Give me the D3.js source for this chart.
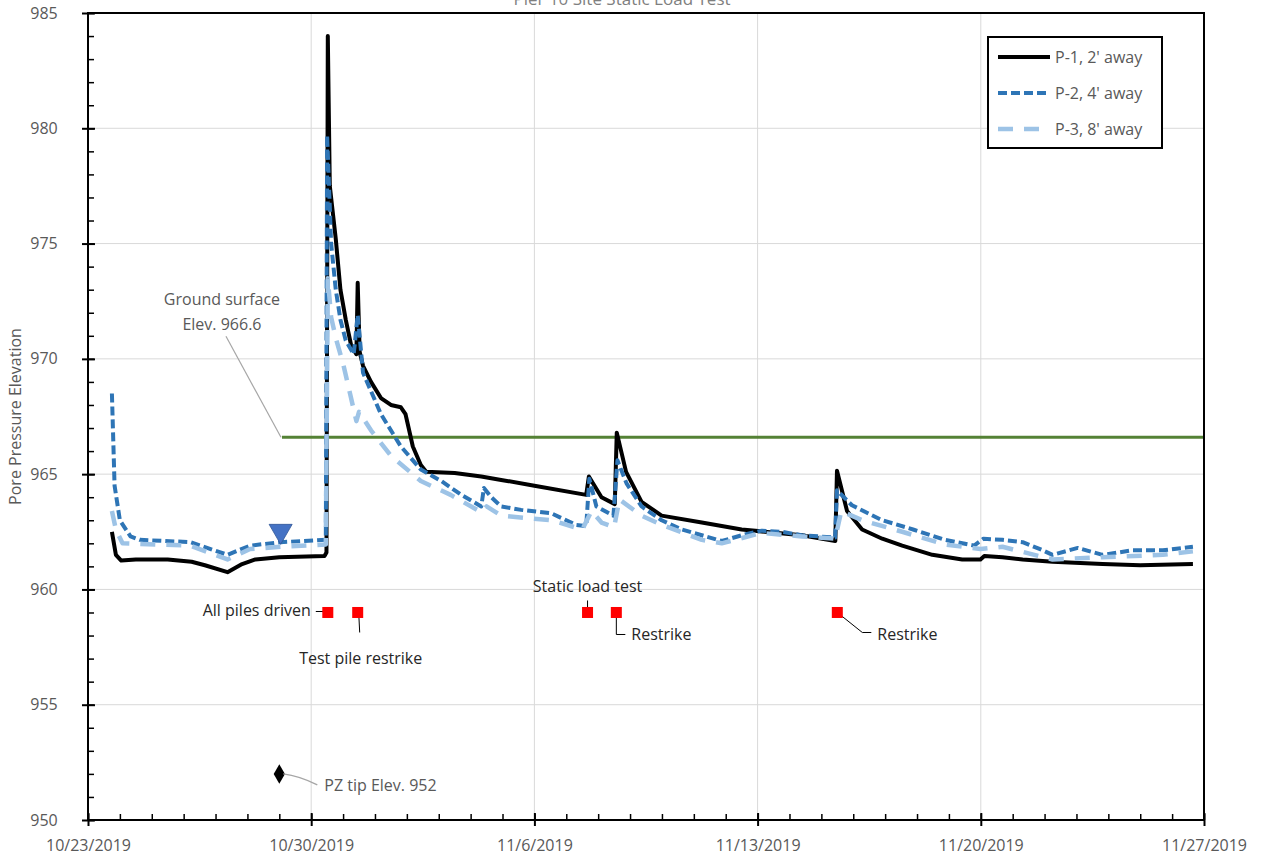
<!DOCTYPE html>
<html>
<head>
<meta charset="utf-8">
<script src="https://cdn.jsdelivr.net/npm/d3@7"></script>
<style>
  html, body { margin: 0; padding: 0; background: #fff; }
  svg { display: block; font-family: "Open Sans", "Noto Sans", sans-serif; }
</style>
</head>
<body>
<svg id="chart" width="1264" height="858"></svg>
<script>
// Piezometer readings: [timestamp, pore pressure elevation (ft)]
const p1Readings = [
  ["2019-10-23T18:00", 962.5], ["2019-10-23T21:00", 961.5], ["2019-10-24T01:00", 961.25],
  ["2019-10-24T12:00", 961.3], ["2019-10-25T12:00", 961.3], ["2019-10-26T06:00", 961.2],
  ["2019-10-26T16:00", 961.05], ["2019-10-27T09:00", 960.75], ["2019-10-27T20:00", 961.1],
  ["2019-10-28T06:00", 961.3], ["2019-10-29T00:00", 961.4], ["2019-10-30T10:00", 961.45],
  ["2019-10-30T11:30", 961.6], ["2019-10-30T12:30", 984.0], ["2019-10-30T14:00", 977.5],
  ["2019-10-30T18:30", 975.2], ["2019-10-30T22:00", 973.0], ["2019-10-31T02:00", 971.7],
  ["2019-10-31T06:00", 970.6], ["2019-10-31T10:00", 970.2], ["2019-10-31T11:00", 973.3],
  ["2019-10-31T12:30", 970.3], ["2019-10-31T15:00", 969.7], ["2019-10-31T21:00", 969.0],
  ["2019-11-01T04:30", 968.3], ["2019-11-01T12:00", 968.0], ["2019-11-01T19:30", 967.9],
  ["2019-11-01T23:00", 967.6], ["2019-11-02T04:30", 966.2], ["2019-11-02T10:30", 965.4],
  ["2019-11-02T14:30", 965.1], ["2019-11-03T12:00", 965.05], ["2019-11-04T08:00", 964.9],
  ["2019-11-04T23:00", 964.75], ["2019-11-06T00:00", 964.5], ["2019-11-07T15:00", 964.1],
  ["2019-11-07T17:00", 964.9], ["2019-11-08T02:30", 964.0], ["2019-11-08T12:30", 963.7],
  ["2019-11-08T14:00", 966.8], ["2019-11-08T21:00", 965.1], ["2019-11-09T08:40", 963.8],
  ["2019-11-09T23:45", 963.2], ["2019-11-11T06:00", 962.9], ["2019-11-12T12:00", 962.6],
  ["2019-11-14T09:20", 962.35], ["2019-11-15T10:30", 962.1], ["2019-11-15T11:45", 965.15],
  ["2019-11-15T19:20", 963.4], ["2019-11-16T06:40", 962.6], ["2019-11-16T21:50", 962.2],
  ["2019-11-17T12:50", 961.9], ["2019-11-18T11:30", 961.5], ["2019-11-19T10:00", 961.3],
  ["2019-11-19T23:45", 961.3], ["2019-11-20T02:40", 961.45], ["2019-11-20T16:20", 961.4],
  ["2019-11-21T07:30", 961.3], ["2019-11-22T06:00", 961.2], ["2019-11-23T19:40", 961.1],
  ["2019-11-25T00:00", 961.05], ["2019-11-26T15:40", 961.1]
];

const p2Readings = [
  ["2019-10-23T18:00", 968.5], ["2019-10-23T20:00", 964.5], ["2019-10-24T00:00", 963.0],
  ["2019-10-24T08:00", 962.3], ["2019-10-24T15:00", 962.15], ["2019-10-26T05:00", 962.05],
  ["2019-10-27T09:00", 961.5], ["2019-10-28T02:00", 961.9], ["2019-10-29T01:00", 962.05],
  ["2019-10-30T11:00", 962.15], ["2019-10-30T12:00", 979.7], ["2019-10-30T15:00", 975.0],
  ["2019-10-30T18:30", 973.0], ["2019-10-30T22:00", 971.7], ["2019-10-31T02:00", 970.8],
  ["2019-10-31T08:00", 970.2], ["2019-10-31T11:00", 971.9], ["2019-10-31T15:00", 969.4],
  ["2019-10-31T21:00", 968.6], ["2019-11-01T04:30", 967.6], ["2019-11-01T19:30", 966.2],
  ["2019-11-02T10:30", 965.2], ["2019-11-03T02:00", 964.7], ["2019-11-03T17:00", 964.1],
  ["2019-11-04T08:00", 963.6], ["2019-11-04T10:00", 964.4], ["2019-11-04T15:30", 964.0],
  ["2019-11-04T23:00", 963.6], ["2019-11-05T14:00", 963.45], ["2019-11-06T12:45", 963.3],
  ["2019-11-07T07:30", 962.8], ["2019-11-07T15:00", 962.75], ["2019-11-07T17:20", 964.8],
  ["2019-11-07T22:40", 963.6], ["2019-11-08T11:30", 963.2], ["2019-11-08T14:30", 965.6],
  ["2019-11-08T21:20", 964.6], ["2019-11-09T08:40", 963.6], ["2019-11-09T23:45", 963.0],
  ["2019-11-10T15:00", 962.6], ["2019-11-11T06:00", 962.35], ["2019-11-11T21:00", 962.1],
  ["2019-11-12T12:00", 962.35], ["2019-11-13T03:00", 962.55], ["2019-11-13T18:00", 962.5],
  ["2019-11-14T09:20", 962.35], ["2019-11-15T10:20", 962.25], ["2019-11-15T11:45", 964.3],
  ["2019-11-15T23:00", 963.65], ["2019-11-16T21:50", 963.0], ["2019-11-17T21:00", 962.6],
  ["2019-11-18T21:00", 962.15], ["2019-11-19T19:00", 961.9], ["2019-11-20T02:00", 962.2],
  ["2019-11-20T16:20", 962.15], ["2019-11-21T07:30", 962.05], ["2019-11-21T22:30", 961.7],
  ["2019-11-22T06:00", 961.5], ["2019-11-23T01:00", 961.8], ["2019-11-23T19:40", 961.5],
  ["2019-11-24T18:30", 961.7], ["2019-11-25T17:00", 961.7], ["2019-11-26T15:40", 961.85]
];

const p3Readings = [
  ["2019-10-23T18:00", 963.4], ["2019-10-23T21:00", 962.6], ["2019-10-24T02:00", 962.0],
  ["2019-10-26T05:00", 961.9], ["2019-10-27T09:00", 961.3], ["2019-10-28T02:00", 961.75],
  ["2019-10-29T01:00", 961.85], ["2019-10-30T11:00", 961.95], ["2019-10-30T12:30", 973.5],
  ["2019-10-30T15:00", 971.8], ["2019-10-30T19:00", 970.8], ["2019-10-31T00:00", 969.8],
  ["2019-10-31T06:00", 968.3], ["2019-10-31T10:00", 967.3], ["2019-10-31T12:00", 967.7],
  ["2019-10-31T21:00", 966.9], ["2019-11-01T12:00", 965.8], ["2019-11-02T10:30", 964.7],
  ["2019-11-03T09:00", 964.1], ["2019-11-04T08:00", 963.35], ["2019-11-04T12:00", 963.6],
  ["2019-11-04T23:00", 963.2], ["2019-11-06T12:45", 963.0], ["2019-11-07T12:00", 962.6],
  ["2019-11-07T19:00", 963.4], ["2019-11-08T02:30", 962.9], ["2019-11-08T12:00", 962.7],
  ["2019-11-08T16:00", 963.9], ["2019-11-09T08:40", 963.2], ["2019-11-09T23:45", 962.8],
  ["2019-11-11T06:00", 962.15], ["2019-11-11T21:00", 962.0], ["2019-11-13T03:00", 962.45],
  ["2019-11-14T09:20", 962.3], ["2019-11-15T10:20", 962.2], ["2019-11-15T15:00", 963.4],
  ["2019-11-16T06:40", 963.0], ["2019-11-17T12:50", 962.5], ["2019-11-18T21:00", 961.95],
  ["2019-11-19T23:45", 961.75], ["2019-11-20T16:20", 961.85], ["2019-11-22T06:00", 961.3],
  ["2019-11-23T19:40", 961.4], ["2019-11-25T17:00", 961.5], ["2019-11-26T15:40", 961.65]
];

const seriesNames = ["P-1, 2' away", "P-2, 4' away", "P-3, 8' away"];

// Construction events, plotted at elevation 959
const eventTimes = ["2019-10-30T12:30", "2019-10-31T11:00", "2019-11-07T16:00", "2019-11-08T13:40", "2019-11-15T12:00"];
const eventLabels = ["All piles driven", "Test pile restrike", "Static load test", "Restrike", "Restrike"];
const eventElevation = 959;

const groundSurface = 966.6;
const groundStart = "2019-10-29T02:00";
const pzTip = { time: "2019-10-29T00:00", elev: 952 };
const waterTable = { time: "2019-10-29T01:00", elev: 962.1 };

const xTickDates = ["2019-10-23", "2019-10-30", "2019-11-06", "2019-11-13", "2019-11-20", "2019-11-27"];
const yTickValues = [950, 955, 960, 965, 970, 975, 980, 985];

// ---- layout ----
const svg = d3.select("#chart");
const plotLeft = 88, plotRight = 1204, plotTop = 13, plotBottom = 820;
const parse = d3.timeParse("%Y-%m-%dT%H:%M");
const parseDay = d3.timeParse("%Y-%m-%d");

const x = d3.scaleTime().domain([parseDay("2019-10-23"), parseDay("2019-11-27")]).range([plotLeft, plotRight]);
const y = d3.scaleLinear().domain([950, 985]).range([plotBottom, plotTop]);

const gridColor = "#d9d9d9";
const labelGrey = "#595959";

// title (runs off the top edge)
svg.append("text").attr("x", 622).attr("y", 5).attr("text-anchor", "middle")
  .attr("font-size", 17).attr("fill", "#7f7f7f").text("Pier 10 Site Static Load Test");

// gridlines
svg.append("g").selectAll("line").data(yTickValues.slice(1, -1)).join("line")
  .attr("x1", plotLeft).attr("x2", plotRight).attr("y1", d => y(d)).attr("y2", d => y(d))
  .attr("stroke", gridColor).attr("stroke-width", 1);
svg.append("g").selectAll("line").data(xTickDates.slice(1, -1).map(parseDay)).join("line")
  .attr("y1", plotTop).attr("y2", plotBottom).attr("x1", d => x(d)).attr("x2", d => x(d))
  .attr("stroke", gridColor).attr("stroke-width", 1);

// ground surface line
svg.append("line")
  .attr("x1", x(parse(groundStart))).attr("x2", plotRight)
  .attr("y1", y(groundSurface)).attr("y2", y(groundSurface))
  .attr("stroke", "#548235").attr("stroke-width", 3);

// series
const line = d3.line().x(d => x(parse(d[0]))).y(d => y(d[1]));
const styles = [
  { data: p1Readings, color: "#000000", width: 4, dash: null },
  { data: p2Readings, color: "#2E75B6", width: 4, dash: "9,4" },
  { data: p3Readings, color: "#9DC3E6", width: 4.5, dash: "15,11" }
];
styles.forEach(s => {
  svg.append("path").datum(s.data).attr("d", line)
    .attr("fill", "none").attr("stroke", s.color).attr("stroke-width", s.width)
    .attr("stroke-linejoin", "round").attr("stroke-dasharray", s.dash);
});

// axes frame
svg.append("rect").attr("x", plotLeft).attr("y", plotTop).attr("width", plotRight - plotLeft).attr("height", plotBottom - plotTop)
  .attr("fill", "none").attr("stroke", "#000").attr("stroke-width", 2);

// x axis: daily minor ticks, weekly major ticks
const xAxisMinor = d3.axisBottom(x).ticks(d3.timeDay.every(1)).tickSize(-6).tickFormat("");
svg.append("g").attr("transform", `translate(0,${plotBottom})`).call(xAxisMinor)
  .call(g => g.select(".domain").remove())
  .call(g => g.selectAll("line").attr("stroke", "#000").attr("stroke-width", 1.5));
const xAxisMajor = d3.axisBottom(x).tickValues(xTickDates.map(parseDay)).tickSize(6)
  .tickFormat(d3.timeFormat("%-m/%-d/%Y"));
svg.append("g").attr("transform", `translate(0,${plotBottom})`).call(xAxisMajor)
  .call(g => g.select(".domain").remove())
  .call(g => g.selectAll("line").attr("stroke", "#000").attr("stroke-width", 2).attr("y1", -7))
  .call(g => g.selectAll("text").attr("font-size", 16).attr("fill", labelGrey)
    .attr("font-family", "Open Sans, sans-serif").attr("dy", "1.35em"));

// y axis: unit minor ticks, labelled every 5
const yAxisMinor = d3.axisLeft(y).ticks(35).tickSize(-6).tickFormat("");
svg.append("g").attr("transform", `translate(${plotLeft},0)`).call(yAxisMinor)
  .call(g => g.select(".domain").remove())
  .call(g => g.selectAll("line").attr("stroke", "#000").attr("stroke-width", 1.5));
const yAxisMajor = d3.axisLeft(y).tickValues(yTickValues).tickSize(6).tickFormat(d3.format("d"));
svg.append("g").attr("transform", `translate(${plotLeft},0)`).call(yAxisMajor)
  .call(g => g.select(".domain").remove())
  .call(g => g.selectAll("line").attr("stroke", "#000").attr("stroke-width", 2).attr("x1", 7))
  .call(g => g.selectAll("text").attr("font-size", 16).attr("fill", labelGrey)
    .attr("font-family", "Open Sans, sans-serif").attr("x", -44).attr("text-anchor", "middle"));

// y axis title
svg.append("text").attr("transform", `translate(21,${(plotTop + plotBottom) / 2}) rotate(-90)`)
  .attr("text-anchor", "middle").attr("font-size", 16).attr("fill", labelGrey)
  .text("Pore Pressure Elevation");

// ground surface callout
const gx = x(parse(groundStart)), gy = y(groundSurface);
svg.append("line").attr("x1", gx - 1).attr("y1", gy).attr("x2", gx - 56).attr("y2", gy - 101)
  .attr("stroke", "#a6a6a6").attr("stroke-width", 1.2);
const gText = svg.append("text").attr("text-anchor", "middle").attr("font-size", 16).attr("fill", labelGrey);
gText.append("tspan").attr("x", gx - 60).attr("y", gy - 132).text("Ground surface");
gText.append("tspan").attr("x", gx - 60).attr("y", gy - 107).text("Elev. 966.6");

// water table symbol
svg.append("path")
  .attr("d", d3.symbol(d3.symbolTriangle, 230)())
  .attr("transform", `translate(${x(parse(waterTable.time))},${y(waterTable.elev) - 10}) rotate(180)`)
  .attr("fill", "#4472C4").attr("stroke", "#2F5597").attr("stroke-width", 0.8);

// PZ tip marker + callout
const px = x(parse(pzTip.time)), py = y(pzTip.elev);
svg.append("path").attr("d", d3.symbol(d3.symbolDiamond, 110)())
  .attr("transform", `translate(${px},${py})`).attr("fill", "#000");
svg.append("path").attr("d", `M${px + 4},${py} Q${px + 20},${py + 2} ${px + 38},${py + 11}`)
  .attr("fill", "none").attr("stroke", "#a6a6a6").attr("stroke-width", 1.2);
svg.append("text").attr("x", px + 45).attr("y", py + 17).attr("font-size", 16).attr("fill", labelGrey)
  .text("PZ tip Elev. 952");

// event markers
const ey = y(eventElevation);
const eventG = svg.append("g");
eventG.selectAll("rect").data(eventTimes).join("rect")
  .attr("x", d => x(parse(d)) - 5.5).attr("y", ey - 5.5).attr("width", 11).attr("height", 11)
  .attr("fill", "#ff0000");

// event callouts: leader path (relative to marker) and label anchor
const callouts = [
  { path: "M-1,-1 L-12,-1", tx: -17, ty: 4, anchor: "end" },
  { path: "M1,0 L2,20", tx: 3, ty: 52, anchor: "middle" },
  { path: "M0,-4 L0,-12", tx: 0, ty: -20, anchor: "middle" },
  { path: "M0,0 L0,22 L9,22", tx: 15, ty: 28, anchor: "start" },
  { path: "M0,0 L25,20 L34,20", tx: 40, ty: 28, anchor: "start" }
];
eventTimes.forEach((t, i) => {
  const cx = x(parse(t)), c = callouts[i];
  const g = svg.append("g").attr("transform", `translate(${cx},${ey})`);
  g.append("path").attr("d", c.path).attr("fill", "none").attr("stroke", "#000").attr("stroke-width", 1);
  g.append("text").attr("x", c.tx).attr("y", c.ty).attr("text-anchor", c.anchor)
    .attr("font-size", 16).attr("fill", "#262626").text(eventLabels[i]);
});
// markers above leaders
eventG.raise();

// legend
const lg = svg.append("g");
lg.append("rect").attr("x", 988).attr("y", 37).attr("width", 174).attr("height", 111)
  .attr("fill", "#fff").attr("stroke", "#000").attr("stroke-width", 2);
styles.forEach((s, i) => {
  const ly = 57 + i * 36;
  lg.append("line").attr("x1", 998).attr("x2", 1050).attr("y1", ly).attr("y2", ly)
    .attr("stroke", s.color).attr("stroke-width", s.width).attr("stroke-dasharray", s.dash);
  lg.append("text").attr("x", 1055).attr("y", ly + 6).attr("font-size", 16).attr("fill", labelGrey)
    .text(seriesNames[i]);
});
</script>
</body>
</html>
